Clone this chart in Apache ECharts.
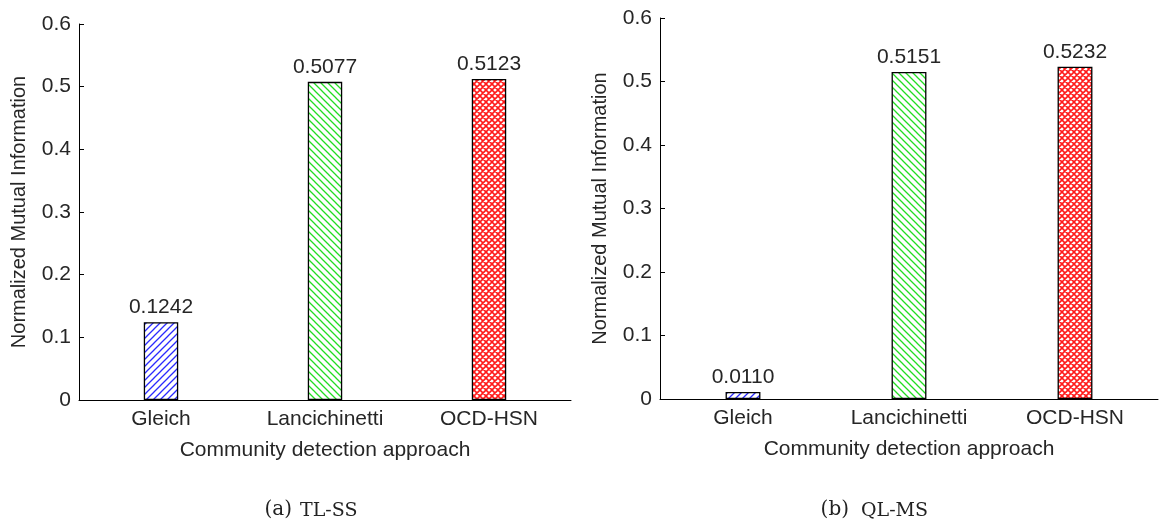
<!DOCTYPE html>
<html>
<head>
<meta charset="utf-8">
<script src="https://cdn.jsdelivr.net/npm/echarts@6/dist/echarts.min.js"></script>
<style>html,body{margin:0;padding:0;background:#fff;}#c{width:1163px;height:524px;}</style>
</head>
<body>
<div id="c"></div>
<script>
const categories = ['Gleich', 'Lancichinetti', 'OCD-HSN'];
const valuesTLSS = [0.1242, 0.5077, 0.5123];
const valuesQLMS = [0.0110, 0.5151, 0.5232];
const yAxisName = 'Normalized Mutual Information';
const xAxisName = 'Community detection approach';
const captionA = ['(a)', 'TL-SS'];
const captionB = ['(b)', 'QL-MS'];

function hatch(color, dir) {
  const s = 7;
  const c = document.createElement('canvas');
  c.width = s; c.height = s;
  const g = c.getContext('2d');
  g.fillStyle = '#fff'; g.fillRect(0, 0, s, s);
  g.strokeStyle = color; g.lineWidth = 1.3;
  g.beginPath();
  if (dir === '/') {
    g.moveTo(-1, s + 1); g.lineTo(s + 1, -1);
    g.moveTo(-1, 1); g.lineTo(1, -1);
    g.moveTo(s - 1, s + 1); g.lineTo(s + 1, s - 1);
  } else {
    g.moveTo(-1, -1); g.lineTo(s + 1, s + 1);
    g.moveTo(s - 1, -1); g.lineTo(s + 1, 1);
    g.moveTo(-1, s - 1); g.lineTo(1, s + 1);
  }
  g.stroke();
  return c;
}
function cross(color) {
  const s = 6;
  const c = document.createElement('canvas');
  c.width = s; c.height = s;
  const g = c.getContext('2d');
  g.fillStyle = '#fff'; g.fillRect(0, 0, s, s);
  g.strokeStyle = color; g.lineWidth = 1.6;
  g.beginPath();
  g.moveTo(-1, -1); g.lineTo(s + 1, s + 1);
  g.moveTo(s - 1, -1); g.lineTo(s + 1, 1);
  g.moveTo(-1, s - 1); g.lineTo(1, s + 1);
  g.moveTo(-1, s + 1); g.lineTo(s + 1, -1);
  g.moveTo(-1, 1); g.lineTo(1, -1);
  g.moveTo(s - 1, s + 1); g.lineTo(s + 1, s - 1);
  g.stroke();
  return c;
}
const fills = [
  { image: hatch('#2a2aff', '/'), repeat: 'repeat' },
  { image: hatch('#22dd22', '\\'), repeat: 'repeat' },
  { image: cross('#ff1a1a'), repeat: 'repeat' }
];

const FONT = 'Liberation Sans';
const TXT = '#262626';

function makeData(vals) {
  return vals.map((v, i) => ({
    value: v,
    itemStyle: { color: fills[i], borderColor: '#000', borderWidth: 1.3 }
  }));
}

function xAxis(gi) {
  return {
    type: 'category', gridIndex: gi, data: categories,
    axisLine: { lineStyle: { color: '#000', width: 1 } },
    axisTick: { show: false },
    axisLabel: { color: TXT, fontFamily: FONT, fontSize: 21, margin: 9 },
    name: xAxisName, nameLocation: 'middle', nameGap: 40,
    nameTextStyle: { color: TXT, fontFamily: FONT, fontSize: 21 }
  };
}
function yAxis(gi) {
  return {
    type: 'value', gridIndex: gi, min: 0, max: 0.6, interval: 0.1,
    axisLine: { show: true, lineStyle: { color: '#000', width: 1 } },
    axisTick: { show: true, inside: true, length: 5, lineStyle: { color: '#000' } },
    splitLine: { show: false },
    axisLabel: { color: TXT, fontFamily: FONT, fontSize: 21, margin: 8,
      formatter: v => v === 0 ? '0' : v.toFixed(1) },
    name: yAxisName, nameLocation: 'middle', nameGap: 50,
    nameTextStyle: { color: TXT, fontFamily: FONT, fontSize: 20 }
  };
}
function series(gi, vals) {
  return {
    type: 'bar', xAxisIndex: gi, yAxisIndex: gi, barWidth: '21%',
    data: makeData(vals),
    label: { show: true, position: 'top', distance: 4, color: TXT,
      fontFamily: FONT, fontSize: 21, formatter: p => p.value.toFixed(4) },
    silent: true
  };
}

const chart = echarts.init(document.getElementById('c'), null, { renderer: 'canvas' });
chart.setOption({
  backgroundColor: '#fff',
  animation: false,
  grid: [
    { left: 79, top: 24, width: 492, height: 376 },
    { left: 660, top: 18, width: 498, height: 381 }
  ],
  xAxis: [xAxis(0), xAxis(1)],
  yAxis: [yAxis(0), yAxis(1)],
  series: [series(0, valuesTLSS), series(1, valuesQLMS)],
  graphic: [
    { type: 'text', x: 292, y: 510, style: { text: captionA[0], align: 'right', verticalAlign: 'middle', font: '20px "DejaVu Serif"', fill: '#222' } },
    { type: 'text', x: 300, y: 511, style: { text: captionA[1], align: 'left', verticalAlign: 'middle', font: '19px "DejaVu Serif"', fill: '#222' } },
    { type: 'text', x: 849, y: 510, style: { text: captionB[0], align: 'right', verticalAlign: 'middle', font: '20px "DejaVu Serif"', fill: '#222' } },
    { type: 'text', x: 861, y: 511, style: { text: captionB[1], align: 'left', verticalAlign: 'middle', font: '19px "DejaVu Serif"', fill: '#222' } }
  ]
});
</script>
</body>
</html>
